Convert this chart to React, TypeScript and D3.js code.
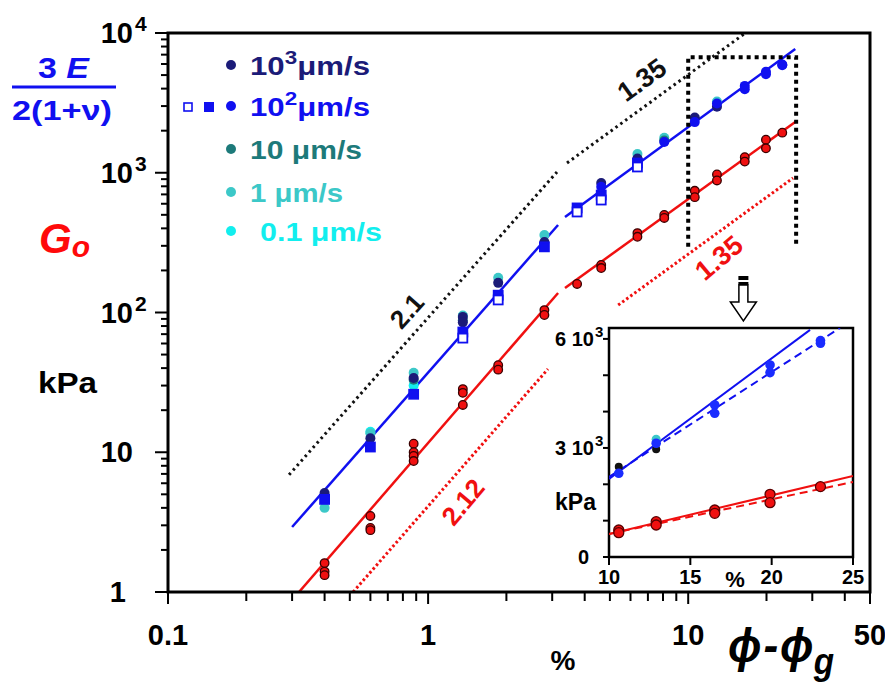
import React from 'react';
import * as d3 from 'd3';

type P = [number, number];

// ---- main plot data (phi - phi_g in %, modulus in kPa) ----
const rate1000: P[] = [[0.4, 5.1], [0.6, 12.6], [0.88, 34], [1.36, 93], [1.36, 85], [1.86, 163], [2.8, 319], [4.63, 845], [6.38, 1265], [10.6, 2486], [12.9, 2963]];
const rate100: P[] = [[4.63, 793], [8.09, 1660], [10.6, 2303], [12.9, 3129], [16.5, 4183], [16.5, 3954], [19.9, 5284], [19.9, 5073], [23.0, 5953], [23.0, 5880]];
const rate100Sq: P[] = [[0.4, 4.6], [0.6, 10.9], [0.88, 26], [1.36, 72.5], [1.86, 133], [2.8, 295], [3.74, 560], [4.63, 693], [6.38, 1174]];
const rate100Open: P[] = [[1.36, 65.6], [1.86, 123], [3.74, 524], [4.63, 638], [6.38, 1100]];
const rate10: P[] = [[0.88, 33], [1.36, 88], [8.09, 1700]];
const rate1: P[] = [[0.4, 4.0], [0.6, 13.7], [0.88, 37], [1.36, 95], [1.86, 177], [2.8, 359], [6.38, 1362], [8.09, 1780], [12.9, 3239]];
const rate01: P[] = [[0.6, 14], [0.88, 30]];
const g0: P[] = [[0.4, 1.61], [0.4, 1.4], [0.4, 1.32], [0.6, 3.5], [0.6, 2.87], [0.6, 2.77], [0.88, 11.5], [0.88, 10], [0.88, 9.4], [0.88, 8.65],
  [1.36, 28.3], [1.36, 26.6], [1.36, 21.8], [1.86, 42], [1.86, 39], [2.8, 104], [2.8, 96], [3.74, 160], [4.63, 219], [4.63, 208],
  [6.38, 370], [6.38, 348], [8.09, 499], [8.09, 475], [10.6, 743], [10.6, 669], [12.9, 972], [12.9, 881], [16.5, 1293], [16.5, 1202],
  [19.9, 1724], [19.9, 1495], [23.0, 1936]];

// fits and guide lines (endpoints in data units)
const blueFit1: P[] = [[0.3, 2.92], [3.16, 423]];
const blueFit2: P[] = [[3.36, 482], [25.8, 7690]];
const redFit1: P[] = [[0.319, 1], [3.16, 138]];
const redFit2: P[] = [[3.36, 150], [25.8, 2310]];
const guide21: P[] = [[0.292, 6.9], [3.13, 1012]];
const guide135: P[] = [[3.42, 1175], [16.6, 10000]];
const guide212: P[] = [[0.515, 1], [2.89, 39.4]];
const guide135r: P[] = [[5.38, 113], [25.3, 917]];

// inset data (linear axes)
const insetBlack: P[] = [[10.6, 2486], [12.9, 2963]];
const insetBlue: P[] = [[10.6, 2303], [12.9, 3129], [16.5, 4183], [16.5, 3954], [19.9, 5284], [19.9, 5073], [23.0, 5953], [23.0, 5880]];
const insetCyan: P[] = [[12.9, 3239]];
const insetRed: P[] = [[10.6, 743], [10.6, 669], [12.9, 972], [12.9, 881], [16.5, 1293], [16.5, 1202], [19.9, 1724], [19.9, 1495], [23.0, 1936]];
const insetBlueSolid: P[] = [[10, 2147], [22.36, 6248]];
const insetBlueDash: P[] = [[10, 2202], [24.2, 6303]];
const insetRedSolid: P[] = [[10, 633], [25, 2229]];
const insetRedDash: P[] = [[10, 633], [25, 2064]];

const xTickLabels = [{ v: 0.1, t: '0.1' }, { v: 1, t: '1' }, { v: 10, t: '10' }, { v: 50, t: '50' }];
const yTickLabels = [{ v: 1, b: '1', e: '' }, { v: 10, b: '10', e: '' }, { v: 100, b: '10', e: '2' }, { v: 1000, b: '10', e: '3' }, { v: 10000, b: '10', e: '4' }];
const insetXTicks = [10, 15, 20, 25];
const insetYTicks = [0, 1000, 2000, 3000, 4000, 5000, 6000];
const insetYLabels = [{ v: 0, b: '0', e: '' }, { v: 3000, b: '3 10', e: '3' }, { v: 6000, b: '6 10', e: '3' }];

const legendRows = [
  { label: '10', sup: '3', rest: 'μm/s', color: '#1b1b78', len: 120 },
  { label: '10', sup: '2', rest: 'μm/s', color: '#1010f0', len: 120 },
  { label: '10 μm/s', sup: '', rest: '', color: '#1d7a7a', len: 112 },
  { label: '1 μm/s', sup: '', rest: '', color: '#3cc8c8', len: 93 },
  { label: '0.1 μm/s', sup: '', rest: '', color: '#12eeee', len: 122 },
];

const zoomBox = { x0: 10, x1: 26, y0: 295, y1: 6700 };

const FONT = '"Liberation Sans", Arial, sans-serif';
const NAVY = '#1b1b78', BLUE = '#1010f0', TEAL = '#1d7a7a', CY1 = '#3cc8c8', CY01 = '#12eeee', RED = '#f01010';

export default function App() {
  const x = d3.scaleLog().domain([0.1, 50]).range([168, 870]);
  const y = d3.scaleLog().domain([1, 10000]).range([592, 33]);
  const xi = d3.scaleLinear().domain([10, 25]).range([609, 853]);
  const yi = d3.scaleLinear().domain([0, 6300]).range([557, 328]);
  const line = d3.line<P>().x(d => x(d[0])).y(d => y(d[1]));
  const lineI = d3.line<P>().x(d => xi(d[0])).y(d => yi(d[1]));
  const isMajor = (v: number) => Math.abs(Math.log10(v) - Math.round(Math.log10(v))) < 1e-6;
  const xt = x.ticks();
  const yt = y.ticks();

  const circles = (data: P[], fill: string, r = 4.5, stroke = 'none', key = '') =>
    data.map((d, i) => <circle key={key + i} cx={x(d[0])} cy={y(d[1])} r={r} fill={fill} stroke={stroke} strokeWidth={1.3} />);
  const squares = (data: P[], fill: string, key: string) =>
    data.map((d, i) => <rect key={key + i} x={x(d[0]) - 4.5} y={y(d[1]) - 4.5} width={9} height={9} fill={fill} stroke={BLUE} strokeWidth={1.8} />);
  const circlesI = (data: P[], fill: string, r = 4.5, stroke = 'none', key = '') =>
    data.map((d, i) => <circle key={key + i} cx={xi(d[0])} cy={yi(d[1])} r={r} fill={fill} stroke={stroke} strokeWidth={1.3} />);

  const arrowX = x(16.3);

  return (
    <svg width={885} height={693} style={{ position: 'absolute', left: 0, top: 0, background: '#fff' }} fontFamily={FONT} fontWeight="bold">
      <defs>
        <clipPath id="mainClip"><rect x={168} y={33} width={702} height={559} /></clipPath>
        <clipPath id="insetClip"><rect x={609} y={328} width={244} height={229} /></clipPath>
      </defs>

      {/* left annotations */}
      <text x={38} y={78} fontSize={30} fill={BLUE} textLength={51} lengthAdjust="spacingAndGlyphs">3 <tspan fontStyle="italic">E</tspan></text>
      <line x1={12} x2={116} y1={87} y2={87} stroke={BLUE} strokeWidth={3} />
      <text x={12} y={120} fontSize={28} fill={BLUE} textLength={100} lengthAdjust="spacingAndGlyphs">2(1+ν)</text>
      <text x={39} y={253} fontSize={42} fontStyle="italic" fill="#ff0a0a">G<tspan fontSize={30} dy={4}>o</tspan></text>
      <text x={38} y={393} fontSize={29} fill="#000" textLength={59} lengthAdjust="spacingAndGlyphs">kPa</text>

      {/* axes ticks */}
      {yt.map((v, i) => (
        <line key={'yt' + i} x1={168} x2={168 - (isMajor(v) ? 13 : 7)} y1={y(v)} y2={y(v)} stroke="#000" strokeWidth={2} />
      ))}
      {xt.map((v, i) => (
        <line key={'xt' + i} y1={592} y2={592 + (isMajor(v) || v === 50 ? 12 : 9)} x1={x(v)} x2={x(v)} stroke="#000" strokeWidth={2} />
      ))}
      {yTickLabels.map((t, i) => (
        <text key={'yl' + i} x={t.e ? 133 : (t.b === '1' ? 126 : 133)} y={y(t.v) + 10} fontSize={29} textAnchor="end" fill="#000">{t.b}</text>
      ))}
      {yTickLabels.filter(t => t.e).map((t, i) => (
        <text key={'ye' + i} x={135} y={y(t.v) - 2} fontSize={21} fill="#000">{t.e}</text>
      ))}
      {xTickLabels.map((t, i) => (
        <text key={'xl' + i} x={x(t.v)} y={645} fontSize={29} textAnchor="middle" fill="#000">{t.t}</text>
      ))}
      <text x={563} y={670} fontSize={28} textAnchor="middle" fill="#000">%</text>
      <text x={728} y={662} fontSize={48} fontStyle="italic" fill="#000" textLength={106} lengthAdjust="spacingAndGlyphs">ϕ<tspan dx={2}>-</tspan><tspan dx={2}>ϕ</tspan><tspan fontSize={36} dy={12}>g</tspan></text>

      {/* legend */}
      {legendRows.map((r, i) => {
        const base = [75, 116, 159, 202, 241][i];
        return (
          <g key={'lg' + i}>
            <circle cx={231} cy={base - 10} r={5} fill={r.color} />
            <text x={i === 4 ? 260 : 250} y={base} fontSize={25} fill={r.color} textLength={r.len} lengthAdjust="spacingAndGlyphs">
              {r.label}{r.sup ? <tspan fontSize={18} dy={-11}>{r.sup}</tspan> : null}{r.rest ? <tspan dy={11}>{r.rest}</tspan> : null}
            </text>
          </g>
        );
      })}
      <rect x={184} y={103} width={8} height={8} fill="#fff" stroke={BLUE} strokeWidth={1.6} />
      <rect x={204} y={102} width={10} height={10} fill={BLUE} />

      {/* guide lines */}
      <g clipPath="url(#mainClip)" fill="none">
        <path d={line(guide21)!} stroke="#111" strokeWidth={3} strokeDasharray="2.5,3.5" />
        <path d={line(guide135)!} stroke="#111" strokeWidth={3} strokeDasharray="2.5,3.5" />
        <path d={line(guide212)!} stroke={RED} strokeWidth={3} strokeDasharray="2.5,2.5" />
        <path d={line(guide135r)!} stroke={RED} strokeWidth={3} strokeDasharray="2.5,2.5" />
        <path d={line(blueFit1)!} stroke={BLUE} strokeWidth={2.5} />
        <path d={line(blueFit2)!} stroke={BLUE} strokeWidth={2.5} />
        <path d={line(redFit1)!} stroke={RED} strokeWidth={2.5} />
        <path d={line(redFit2)!} stroke={RED} strokeWidth={2.5} />
      </g>

      {/* slope labels */}
      <text transform={`translate(407,311) rotate(-48)`} textAnchor="middle" dominantBaseline="central" fontSize={26} fill="#111">2.1</text>
      <text transform={`translate(642,80) rotate(-36)`} textAnchor="middle" dominantBaseline="central" fontSize={27} fill="#111">1.35</text>
      <text transform={`translate(463,502) rotate(-50)`} textAnchor="middle" dominantBaseline="central" fontSize={26} fill={RED}>2.12</text>
      <text transform={`translate(719,258) rotate(-40)`} textAnchor="middle" dominantBaseline="central" fontSize={27} fill={RED}>1.35</text>

      {/* data points */}
      <g>
        {circles(rate01, CY01, 5, 'none', 'a')}
        {circles(rate1, CY1, 5, 'none', 'b')}
        {circles(rate10, TEAL, 5, 'none', 'c')}
        {circles(rate1000, NAVY, 5, 'none', 'd')}
        {squares(rate100Sq, BLUE, 'e')}
        {squares(rate100Open, '#fff', 'f')}
        {circles(rate100, BLUE, 5, 'none', 'g')}
        {circles(g0, RED, 4.3, '#3a0000', 'h')}
      </g>

      {/* zoom box */}
      <path d={`M${x(zoomBox.x0)},${y(zoomBox.y0)} L${x(zoomBox.x0)},${y(zoomBox.y1)} L${x(zoomBox.x1)},${y(zoomBox.y1)} L${x(zoomBox.x1)},${y(zoomBox.y0)}`}
        fill="none" stroke="#000" strokeWidth={4} strokeDasharray="4,4" />

      {/* arrow */}
      <path d={`M${arrowX - 4.5},285 L${arrowX - 4.5},302 L${arrowX - 13},302 L${arrowX},321 L${arrowX + 13},302 L${arrowX + 4.5},302 L${arrowX + 4.5},285 Z`} fill="#fff" stroke="#000" strokeWidth={1.5} />
      <rect x={arrowX - 5} y={276} width={10} height={4} fill="#000" />
      <rect x={arrowX - 5} y={282} width={10} height={3} fill="#000" />

      {/* frame */}
      <rect x={168} y={33} width={702} height={559} fill="none" stroke="#000" strokeWidth={3} />

      {/* inset */}
      <rect x={609} y={328} width={244} height={229} fill="#fff" stroke="#000" strokeWidth={2.5} />
      {insetYTicks.map((v, i) => (
        <line key={'iyt' + i} x1={609} x2={603} y1={yi(v)} y2={yi(v)} stroke="#000" strokeWidth={2} />
      ))}
      {insetXTicks.map((v, i) => (
        <line key={'ixt' + i} x1={xi(v)} x2={xi(v)} y1={557} y2={565} stroke="#000" strokeWidth={2} />
      ))}
      {insetXTicks.map((v, i) => (
        <text key={'ixl' + i} x={xi(v)} y={584} fontSize={20} textAnchor="middle" fill="#000">{v}</text>
      ))}
      <text x={735} y={587} fontSize={22} textAnchor="middle" fill="#000">%</text>
      {insetYLabels.map((t, i) => (
        <text key={'iyl' + i} x={t.e ? 594 : 589} y={yi(t.v) + 7} fontSize={20} textAnchor="end" fill="#000">{t.b}</text>
      ))}
      {insetYLabels.filter(t => t.e).map((t, i) => (
        <text key={'iye' + i} x={595} y={yi(t.v) - 2} fontSize={15} fill="#000">{t.e}</text>
      ))}
      <text x={555} y={510} fontSize={23} fill="#000">kPa</text>
      <g clipPath="url(#insetClip)" fill="none">
        <path d={lineI(insetBlueSolid)!} stroke={BLUE} strokeWidth={2} />
        <path d={lineI(insetBlueDash)!} stroke={BLUE} strokeWidth={2} strokeDasharray="8,5" />
        <path d={lineI(insetRedSolid)!} stroke={RED} strokeWidth={2} />
        <path d={lineI(insetRedDash)!} stroke={RED} strokeWidth={2} strokeDasharray="8,5" />
      </g>
      {circlesI(insetCyan, CY1, 4.5, 'none', 'ia')}
      {circlesI(insetBlack, '#111', 4, 'none', 'ib')}
      {circlesI(insetBlue, '#1a2cff', 4.8, 'none', 'ic')}
      {circlesI(insetRed, RED, 5, '#5a0000', 'id')}
    </svg>
  );
}
